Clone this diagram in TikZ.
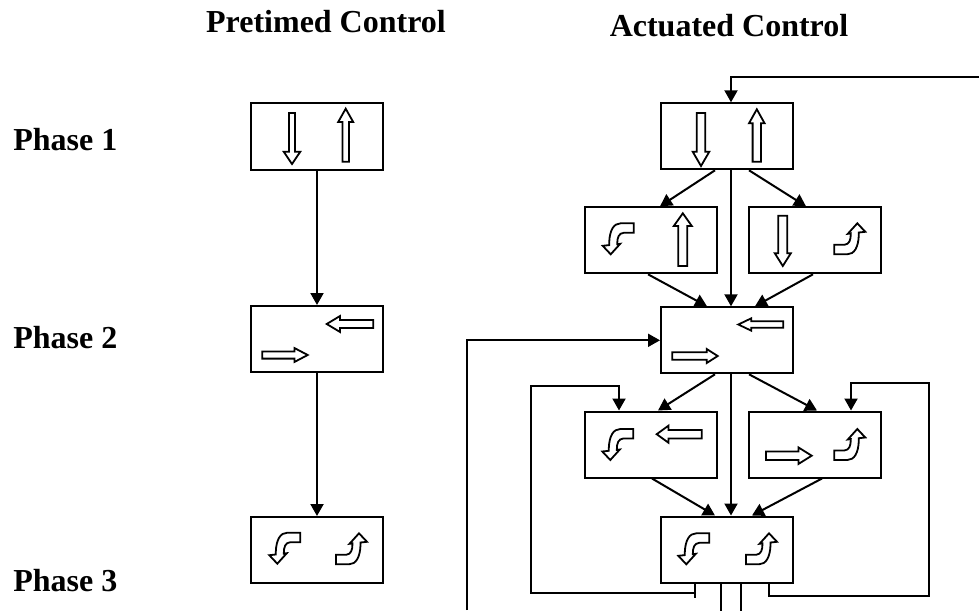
\documentclass[tikz,border=0pt]{standalone}
\usepackage{fontspec}
\setmainfont{Liberation Serif}
\usetikzlibrary{arrows.meta,calc}
\tikzset{
  phasebox/.style={draw, line width=1pt, minimum width=66pt, minimum height=33pt, inner sep=0pt},
  conn/.style={line width=1pt, -{Triangle[length=6pt,width=6.5pt]}},
  wire/.style={line width=1pt},
  oarrow/.style={draw, line width=0.9pt, line join=miter, fill=white},
  lbl/.style={font=\fontsize{16}{19}\selectfont\bfseries, inner sep=0pt, anchor=base},
  plbl/.style={lbl, anchor=base west},
}
% straight outline arrow: tail x, tail y, angle, length, shaft half width, head half width, head length
\newcommand\sarr[7]{\path[oarrow, shift={(#1,#2)}, rotate=#3] (0,-#5) -- ({#4-#7},-#5) -- ({#4-#7},-#6) -- (#4,0) -- ({#4-#7},#6) -- ({#4-#7},#5) -- (0,#5) -- cycle;}
% turning outline arrow: bbox top-left x, y, rotation
\newcommand\turnarr[3]{\path[oarrow, shift={(#1,#2)}, rotate around={#3:(15.5,15.5)}] (31,0) -- (18,0) .. controls (11,0) and (7,7) .. (6.5,19) -- (6.5,21.8) -- (0,22.5) -- (8,31) -- (17.5,20.5) -- (14.5,20.9) .. controls (14.5,14) and (16,10) .. (21,9.5) -- (31,9.5) -- cycle;}
\begin{document}
\begin{tikzpicture}[x=0.5pt,y=-0.5pt]
\useasboundingbox (0,0) rectangle (979,610);
\fill[white] (0,0) rectangle (979,610);

% titles and labels
\node[lbl] (tPre) at (326,33) {Pretimed Control};
\node[lbl] (tAct) at (729,37) {Actuated Control};
\node[plbl] (ph1) at (13,150) {Phase 1};
\node[plbl] (ph2) at (13,348) {Phase 2};
\node[plbl] (ph3) at (13,591) {Phase 3};

% boxes
\node[phasebox] (P1) at (317,136.5) {};
\node[phasebox] (P2) at (317,339) {};
\node[phasebox] (P3) at (317,550) {};
\node[phasebox] (A1) at (727,136.3) {};
\node[phasebox] (A2L) at (651,240.3) {};
\node[phasebox] (A2R) at (815,240.3) {};
\node[phasebox] (B2) at (727,340.3) {};
\node[phasebox] (C2L) at (651,444.5) {};
\node[phasebox] (C2R) at (815,444.5) {};
\node[phasebox] (C3) at (727,549.5) {};

% pretimed connectors
\draw[conn] (P1.south) -- (P2.north);
\draw[conn] (P2.south) -- (P3.north);

% actuated connectors
\coordinate (fbT) at (979,77);
\draw[conn] (fbT) -| ($(A1.north)+(4,0)$);
\draw[conn] ($(A1.south)+(-12,0)$) -- ($(A2L.north)+(9,0)$);
\draw[conn] ($(A1.south)+(4,0)$) -- ($(B2.north)+(4,0)$);
\draw[conn] ($(A1.south)+(22,0)$) -- ($(A2R.north)+(-9,0)$);
\draw[conn] ($(A2L.south)+(-3,0)$) -- ($(B2.north)+(-20,0)$);
\draw[conn] ($(A2R.south)+(-2,0)$) -- ($(B2.north)+(28,0)$);
\coordinate (fbL) at (467,610);
\draw[conn] (fbL) |- (B2.west);
\draw[conn] ($(B2.south)+(-12,0)$) -- ($(C2L.north)+(7,0)$);
\draw[conn] ($(B2.south)+(4,0)$) -- ($(C3.north)+(4,0)$);
\draw[conn] ($(B2.south)+(22,0)$) -- ($(C2R.north)+(2,0)$);
\draw[conn] ($(C2L.south)+(1,0)$) -- ($(C3.north)+(-12,0)$);
\draw[conn] ($(C2R.south)+(7,0)$) -- ($(C3.north)+(25,0)$);
% loops from phase 3
\coordinate (c3a) at ($(C3.south)+(-32,0)$);
\coordinate (c3b) at ($(C3.south)+(42,0)$);
\draw[wire] (c3a) -- ++(0,14);
\draw[conn] (c3a) |- (531,593) |- (619,386) -- ($(C2L.north)+(-32,0)$);
\draw[conn] (c3b) |- (929,596) |- (851,383) -- ($(C2R.north)+(36,0)$);
\coordinate (c3c) at ($(C3.south)+(-6,0)$);
\coordinate (c3d) at ($(C3.south)+(14,0)$);
\draw[wire] (c3c) -- ++(0,30);
\draw[wire] (c3d) -- ++(0,30);

% outline arrows - pretimed
\sarr{292}{113}{-90}{51}{3}{8.3}{12.3}
\sarr{345.7}{161.7}{90}{53}{3.3}{7.5}{13.3}
\sarr{373.3}{324}{180}{46.6}{4}{8}{13.3}
\sarr{262.3}{355}{0}{45.4}{3.6}{7}{13.3}
\turnarr{269.3}{532.7}{0}
\turnarr{336}{533.3}{180}

% outline arrows - actuated
\sarr{701}{113}{-90}{53}{4.2}{8.3}{14.3}
\sarr{756.8}{161.7}{90}{52.4}{4.2}{7.8}{14}
\turnarr{602.7}{223.3}{0}
\sarr{682.8}{266}{90}{52.7}{4.5}{9}{12.7}
\sarr{782.8}{215.7}{-90}{50.3}{4.5}{8}{12.7}
\turnarr{834.3}{223.3}{180}
\sarr{783.3}{324.5}{180}{45}{3.3}{6.2}{13}
\sarr{672.3}{356}{0}{45.4}{3.8}{7}{11}
\turnarr{602.3}{429}{0}
\sarr{701.7}{434.2}{180}{45}{4.2}{8.5}{11.7}
\sarr{766}{455.7}{0}{45.7}{4.2}{8.3}{13.3}
\turnarr{834.3}{429}{180}
\turnarr{678.3}{533.3}{0}
\turnarr{746}{533.3}{180}
\end{tikzpicture}
\end{document}
